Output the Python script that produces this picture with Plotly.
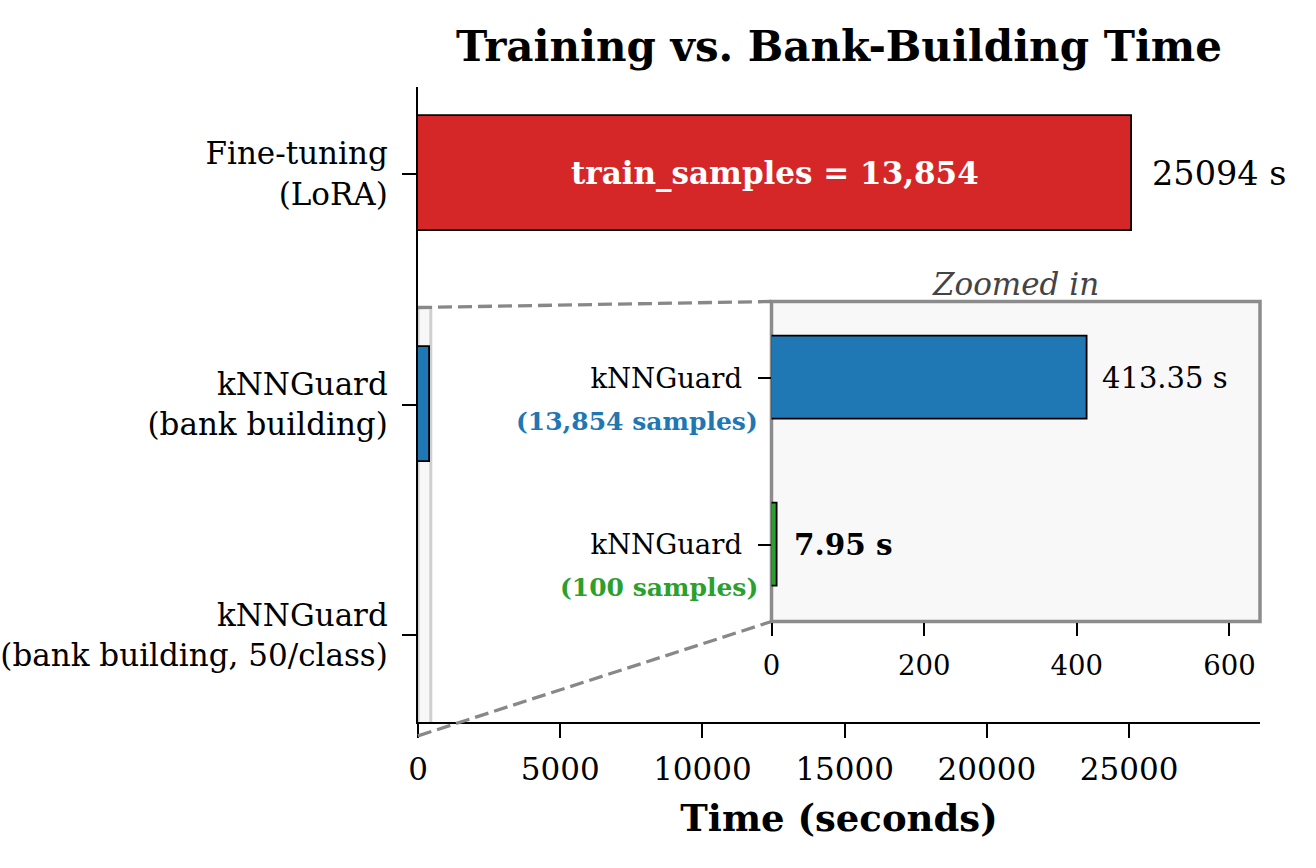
import plotly.graph_objects as go

# ---------------- data ----------------
main_labels = ["Fine-tuning<br>(LoRA)", "kNNGuard<br>(bank building)",
               "kNNGuard<br>(bank building, 50/class)"]
main_times = [25094, 413.35, 7.95]
main_colors = ["#d62728", "#1f77b4", "#2ca02c"]
main_xticks = [0, 5000, 10000, 15000, 20000, 25000]
main_xmax = 29600
bar_inner_text = "train_samples = 13,854"

inset_labels = ["kNNGuard", "kNNGuard"]
inset_notes = ["(13,854 samples)", "(100 samples)"]
inset_times = [413.35, 7.95]
inset_colors = ["#1f77b4", "#2ca02c"]
inset_xticks = [0, 200, 400, 600]
inset_xmax = 640

# zoom indicator region (data units of main axes)
rect_x = [0, 450]
rect_y = [0.58, 2.435]

FONT = "DejaVu Serif"
W, H = 1316, 868

# domains (paper)
main_xd = [418 / W, 1260 / W]
main_yd = [1 - 722 / H, 1 - 87 / H]
ins_xd = [771.5 / W, 1260 / W]
ins_yd = [1 - 621.5 / H, 1 - 301.5 / H]
main_yr = [2.375, -0.375]
ins_yr = [1.46, -0.46]

fig = go.Figure()

fig.add_trace(go.Bar(
    y=list(range(len(main_times))), x=main_times, orientation="h", width=0.5,
    marker=dict(color=main_colors, line=dict(color="black", width=1.8)),
    xaxis="x", yaxis="y", showlegend=False, hoverinfo="x"))

fig.add_trace(go.Bar(
    y=list(range(len(inset_times))), x=inset_times, orientation="h", width=0.5,
    marker=dict(color=inset_colors, line=dict(color="black", width=1.8)),
    xaxis="x2", yaxis="y2", showlegend=False, hoverinfo="x"))

# ---------------- shapes ----------------
shapes = []
# indicator rectangle in main axes
shapes.append(dict(type="rect", xref="x", yref="y", x0=rect_x[0], x1=rect_x[1],
                   y0=rect_y[0], y1=rect_y[1], fillcolor="#f7f7f7",
                   line=dict(color="#cfcfcf", width=3), layer="below"))
# inset background + frame
shapes.append(dict(type="rect", xref="x2 domain", yref="y2 domain", x0=0, x1=1,
                   y0=0, y1=1, fillcolor="#f8f8f8",
                   line=dict(color="#8c8c8c", width=3.5), layer="below"))


def to_paper_x(v):
    return main_xd[0] + (v - 0) / (main_xmax - 0) * (main_xd[1] - main_xd[0])


def to_paper_y(v):
    # reversed range
    frac = (main_yr[0] - v) / (main_yr[0] - main_yr[1])
    return main_yd[0] + frac * (main_yd[1] - main_yd[0])


# connectors: rect top-left -> inset top-left, rect bottom-left -> inset bottom-left
conn = [((to_paper_x(rect_x[0]), to_paper_y(rect_y[0])), (ins_xd[0], ins_yd[1])),
        ((to_paper_x(rect_x[0]), to_paper_y(rect_y[1])), (ins_xd[0], ins_yd[0]))]
for (a, b) in conn:
    shapes.append(dict(type="line", xref="paper", yref="paper",
                       x0=a[0], y0=a[1], x1=b[0], y1=b[1],
                       line=dict(color="#888888", width=3.3, dash="14px,6px"),
                       layer="above"))

# ---------------- annotations ----------------
ann = []
# inside text on fine-tuning bar
ann.append(dict(x=main_times[0] / 2, y=0, xref="x", yref="y", text="<b>" + bar_inner_text + "</b>",
                showarrow=False, font=dict(family=FONT, size=31, color="white")))
# value label main
ann.append(dict(x=main_times[0], y=0, xref="x", yref="y", text=f"{main_times[0]:.0f} s",
                showarrow=False, xanchor="left", xshift=18,
                font=dict(family=FONT, size=33.5, color="black")))
# inset value labels
ann.append(dict(x=inset_times[0], y=0, xref="x2", yref="y2", text=f"{inset_times[0]:.2f} s",
                showarrow=False, xanchor="left", xshift=13,
                font=dict(family=FONT, size=29, color="black")))
ann.append(dict(x=inset_times[1], y=1, xref="x2", yref="y2", text=f"<b>{inset_times[1]:.2f} s</b>",
                showarrow=False, xanchor="left", xshift=14,
                font=dict(family=FONT, size=29.5, color="black")))
# colored notes under inset tick labels
for i, (note, col) in enumerate(zip(inset_notes, inset_colors)):
    ann.append(dict(x=757 / W, y=i, xref="paper", yref="y2", text=f"<b>{note}</b>",
                    showarrow=False, xanchor="right", xshift=3, yshift=-43,
                    font=dict(family=FONT, size=25, color=col)))
# zoomed in label
ann.append(dict(x=0.5, y=1, xref="x2 domain", yref="y2 domain", text="<i>Zoomed in</i>",
                showarrow=False, xanchor="center", yanchor="bottom", yshift=-2,
                font=dict(family=FONT, size=31, color="#444444")))

axis_common = dict(automargin=False, showgrid=False, zeroline=False)

fig.update_layout(
    template="none",
    width=W, height=H, margin=dict(l=0, r=0, t=0, b=0, autoexpand=False),
    paper_bgcolor="white", plot_bgcolor="rgba(0,0,0,0)",
    shapes=shapes, annotations=ann, bargap=0,
    title=dict(text="<b>Training vs. Bank-Building Time</b>", x=839 / W, xanchor="center",
               y=1 - 46 / H, yanchor="middle", yref="container",
               font=dict(family=FONT, size=42, color="black")),
    xaxis=dict(domain=main_xd, range=[0, main_xmax], anchor="y",
               tickvals=main_xticks, ticktext=[str(t) for t in main_xticks],
               ticks="outside", ticklen=14, tickwidth=2, tickcolor="black",
               showline=True, linewidth=2, linecolor="black",
               tickfont=dict(family=FONT, size=31, color="black"), ticklabelstandoff=5,
               title=dict(text="<b>Time (seconds)</b>", standoff=19,
                          font=dict(family=FONT, size=37, color="black")),
               **axis_common),
    yaxis=dict(domain=main_yd, range=main_yr, anchor="x",
               tickvals=list(range(len(main_labels))), ticktext=main_labels,
               ticks="outside", ticklen=14, tickwidth=2, tickcolor="black",
               showline=True, linewidth=2, linecolor="black",
               tickfont=dict(family=FONT, size=31, color="black"), ticklabelstandoff=8,
               **axis_common),
    xaxis2=dict(domain=ins_xd, range=[0, inset_xmax], anchor="y2",
                tickvals=inset_xticks, ticktext=[str(t) for t in inset_xticks],
                ticks="outside", ticklen=13, tickwidth=2, tickcolor="black",
                showline=False,
                tickfont=dict(family=FONT, size=27.5, color="black"), ticklabelstandoff=6,
                **axis_common),
    yaxis2=dict(domain=ins_yd, range=ins_yr, anchor="x2",
                tickvals=list(range(len(inset_labels))), ticktext=inset_labels,
                ticks="outside", ticklen=13, tickwidth=2, tickcolor="black",
                showline=False,
                tickfont=dict(family=FONT, size=27.5, color="black"), ticklabelstandoff=10,
                **axis_common),
)

fig.write_html("out.html")
